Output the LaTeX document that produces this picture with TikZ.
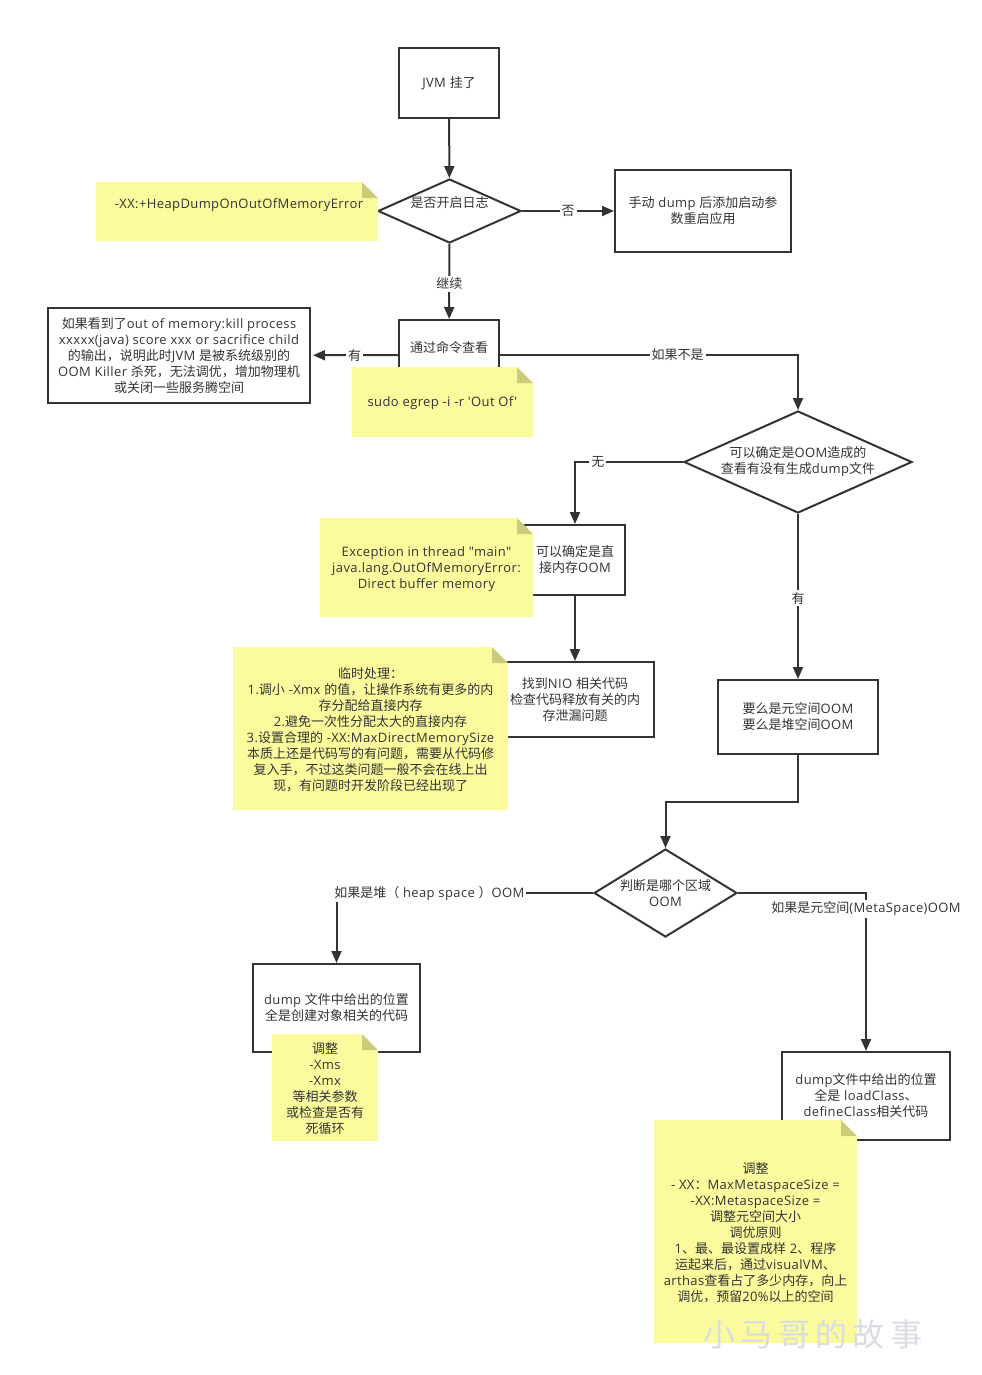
\documentclass[tikz,border=0pt]{standalone}
\usepackage{fontspec}
\newfontfamily\latinfont{Open Sans}[LetterSpace=3]
\newfontfamily\hanfont{Noto Sans CJK SC}
% Chinese runs take their own font
\newXeTeXintercharclass\hanclass
\XeTeXinterchartokenstate=1
\count255="3000
\loop\XeTeXcharclass\count255=\hanclass\ifnum\count255<"9FFF\advance\count255 by 1\repeat
\count255="FF00
\loop\XeTeXcharclass\count255=\hanclass\ifnum\count255<"FFEF\advance\count255 by 1\repeat
\XeTeXinterchartoks 0 \hanclass={\hanfont}
\XeTeXinterchartoks 4095 \hanclass={\hanfont}
\XeTeXinterchartoks \hanclass 0={\latinfont}
\XeTeXinterchartoks \hanclass 4095={\latinfont}
\usetikzlibrary{arrows.meta,shapes,calc}
\definecolor{inkgray}{HTML}{333333}
\definecolor{noteyellow}{HTML}{FBFB9E}
\definecolor{notefold}{HTML}{CBCB7B}
\definecolor{stampgray}{HTML}{D9DCE2}
\tikzset{
        wh/.style 2 args={minimum width=#1*0.75pt, minimum height=#2*0.75pt},
        flow_text/.style={align=center, inner sep=0pt, text=inkgray, font=\latinfont\fontsize{9.75}{12}\selectfont},
        % Process boxes
        flow_box/.style={flow_text, rectangle, draw=inkgray, line width=1.5pt},
        % Decision nodes
        flow_diamond/.style={flow_text, diamond, draw=inkgray, line width=1.5pt},
        % Connectors and their labels
        flow_edge/.style={draw=inkgray, line width=1.5pt, -{Triangle[length=9pt,width=7.5pt]}},
        edge_label/.style={flow_text, fill=white, inner sep=1.5pt},
        note_text/.style={flow_text, yshift=-1pt}
}
% name, left, top, right, bottom, text
\newcommand{\yellownote}[7][]{
    \fill[noteyellow] (#3,#4) -- ({#5-16},#4) -- (#5,{#4+16}) -- (#5,#6) -- (#3,#6) -- cycle;
    \fill[notefold] ({#5-16},#4) -- (#5,{#4+16}) -- ({#5-16},{#4+16}) -- cycle;
    \node[note_text,#1] (#2) at ({(#3+#5)/2},{(#4+#6)/2}) {#7};
}

\begin{document}
\begin{tikzpicture}[x=0.75pt,y=-0.75pt]
    \useasboundingbox (0,0) rectangle (982,1375);

    \node[flow_box, wh={100}{70}] (jvm) at (449,83) {JVM 挂了};
    \node[flow_diamond, wh={143}{64}, shape aspect=2.234] (logcheck) at (449.5,211) {\raisebox{2.5pt}[0pt][0pt]{是否开启日志}};
    \node[flow_box, wh={176}{82}] (manual) at (703,211) {手动 dump 后添加启动参\\数重启应用};
    \node[flow_box, wh={100}{70}] (command) at (449,355) {\raisebox{1.75pt}[0pt][0pt]{通过命令查看}};
    \node[flow_box, wh={262}{95}] (killer) at (179,355.5) {如果看到了out of memory:kill process\\xxxxx(java) score xxx or sacrifice child\\的输出，说明此时JVM 是被系统级别的\\OOM Killer 杀死，无法调优，增加物理机\\或关闭一些服务腾空间};
    \node[flow_diamond, wh={228}{102}, shape aspect=2.235] (oomcheck) at (798,462) {可以确定是OOM造成的\\查看有没有生成dump文件};
    \node[flow_box, wh={100}{70}] (direct) at (575,560) {可以确定是直\\接内存OOM};
    \node[flow_box, wh={158}{75}] (nio) at (575,699.5) {找到NIO 相关代码\\检查代码释放有关的内\\存泄漏问题};
    \node[flow_box, wh={160}{74}] (either) at (798,717) {要么是元空间OOM\\要么是堆空间OOM};
    \node[flow_diamond, wh={143}{88}, shape aspect=1.625] (area) at (665.5,893) {判断是哪个区域\\OOM};
    \node[flow_box, wh={167}{88}] (heap) at (336.5,1008) {dump 文件中给出的位置\\全是创建对象相关的代码};
    \node[flow_box, wh={168}{88}] (meta) at (866,1096) {dump文件中给出的位置\\全是 loadClass、\\defineClass相关代码};

    \coordinate (bend_a) at (798,802);
    \coordinate (bend_b) at (665.5,802);

    \draw[flow_edge] (jvm) -- (logcheck);
    \draw[flow_edge] (logcheck) -- node[edge_label] (lab_no) {否} (manual);
    \draw[flow_edge] (logcheck) -- node[edge_label, pos=0.53] (lab_go) {继续} (command);
    \draw[flow_edge, shorten >=1.5pt] (command) -- node[edge_label] (lab_has) {有} (killer);
    \draw[flow_edge] (command.east) -| node[edge_label, pos=0.298] (lab_not) {如果不是} (oomcheck.north);
    \draw[flow_edge] (oomcheck.west) -| node[edge_label, pos=0.394] (lab_none) {无} (direct.north);
    \draw[flow_edge] (oomcheck.south) -- node[edge_label, pos=0.51] (lab_yes) {有} (either.north);
    \draw[flow_edge] (direct.south) -- (nio.north);
    \draw[flow_edge] (either.south) -- (bend_a) -- (bend_b) -- (area.north);
    \draw[flow_edge] (area.west) -| node[edge_label, pos=0.319] (lab_heap) {如果是堆（ heap space ）OOM} (heap.north);
    \draw[flow_edge] (area.east) -| node[edge_label, pos=0.55] (lab_meta) {如果是元空间(MetaSpace)OOM} (meta.north);

    \yellownote[yshift=5.5pt,xshift=1.5pt]{note_dump}{96}{182}{378}{241}{-XX:+HeapDumpOnOutOfMemoryError}
    \yellownote{note_grep}{352}{367}{533}{437}{sudo egrep -i -r 'Out Of'}
    \yellownote{note_direct}{320}{518}{533}{617}{Exception in thread "main"\\java.lang.OutOfMemoryError:\\Direct buffer memory}
    \yellownote{note_temp}{233}{647}{508}{810}{临时处理：\\1.调小 -Xmx 的值，让操作系统有更多的内\\存分配给直接内存\\2.避免一次性分配太大的直接内存\\3.设置合理的 -XX:MaxDirectMemorySize\\本质上还是代码写的有问题，需要从代码修\\复入手，不过这类问题一般不会在线上出\\现，有问题时开发阶段已经出现了}
    \yellownote{note_heap}{272}{1034}{378}{1141}{调整\\-Xms\\-Xmx\\等相关参数\\或检查是否有\\死循环}
    \yellownote{note_meta}{654}{1120}{857}{1343}{调整\\- XX：MaxMetaspaceSize =\\-XX:MetaspaceSize =\\调整元空间大小\\调优原则\\1、最、最设置成样 2、程序\hspace*{14pt}\\运起来后，通过visualVM、\\arthas查看占了多少内存，向上\\调优，预留20\%以上的空间}

    % watermark
    \node[text=stampgray, inner sep=0pt, font=\hanfont\fontsize{24}{24}\selectfont] (stamp) at (813,1334) {小\,马\,哥\,的\,故\,事};
\end{tikzpicture}
\end{document}
